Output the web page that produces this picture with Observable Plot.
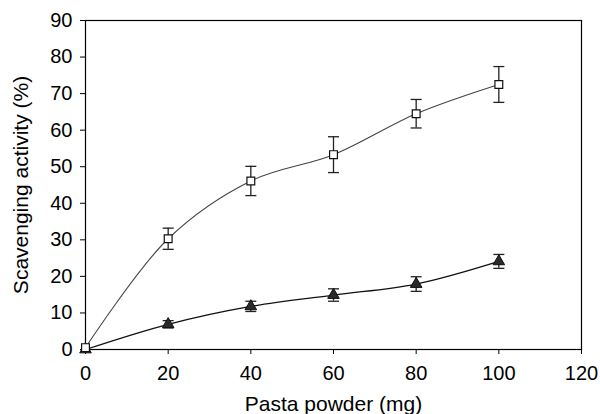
<!DOCTYPE html>
<html>
<head>
<meta charset="utf-8">
<script src="https://cdn.jsdelivr.net/npm/d3@7"></script>
<script src="https://cdn.jsdelivr.net/npm/@observablehq/plot@0.6"></script>
<style>
  html, body { margin: 0; padding: 0; background: #fff; }
  #chart svg { display: block; }
</style>
</head>
<body>
<div id="chart"></div>
<script>
// Data
const doses = [0, 20, 40, 60, 80, 100];              // Pasta powder (mg)
const squareMean = [0.5, 30.3, 46.1, 53.3, 64.5, 72.5];
const squareErr  = [0, 2.9, 4.0, 4.9, 3.9, 4.9];
const triangleMean = [0, 6.9, 11.8, 14.9, 17.9, 24.1];
const triangleErr  = [0, 1.0, 1.4, 1.7, 2.0, 1.9];
const xTicks = [0, 20, 40, 60, 80, 100, 120];
const yTicks = [0, 10, 20, 30, 40, 50, 60, 70, 80, 90];
const xTitle = "Pasta powder (mg)";
const yTitle = "Scavenging activity (%)";

const squares = doses.map((x, i) => ({x, y: squareMean[i], e: squareErr[i]}));
const triangles = doses.map((x, i) => ({x, y: triangleMean[i], e: triangleErr[i]}));

// horizontal cap symbol for error bars
const cap = {draw(ctx) { ctx.moveTo(-5.5, 0); ctx.lineTo(5.5, 0); }};

function errorMarks(data, color) {
  const withErr = data.filter(d => d.e > 0);
  return [
    Plot.ruleX(withErr, {x: "x", y1: d => d.y - d.e, y2: d => d.y + d.e, stroke: color, strokeWidth: 1.3}),
    Plot.dot(withErr, {x: "x", y: d => d.y + d.e, symbol: cap, stroke: color, strokeWidth: 1.3, r: 5}),
    Plot.dot(withErr, {x: "x", y: d => d.y - d.e, symbol: cap, stroke: color, strokeWidth: 1.3, r: 5})
  ];
}

const chart = Plot.plot({
  width: 600,
  height: 414,
  marginLeft: 85,
  marginRight: 19,
  marginTop: 20,
  marginBottom: 65,
  style: {fontFamily: "'Liberation Sans', Arial, sans-serif", fontSize: "20px", color: "#000", background: "#fff"},
  x: {domain: [0, 120], label: null},
  y: {domain: [0, 90], label: null},
  marks: [
    Plot.axisX({ticks: xTicks, tickSize: 5, tickPadding: 11, fontSize: 20, label: null}),
    Plot.axisY({ticks: yTicks, tickSize: 5, tickPadding: 8, fontSize: 20, label: null}),
    Plot.frame({stroke: "#000", strokeWidth: 1.2}),
    Plot.line(squares, {x: "x", y: "y", curve: "catmull-rom", stroke: "#444", strokeWidth: 1.1}),
    Plot.line(triangles, {x: "x", y: "y", curve: "catmull-rom", stroke: "#111", strokeWidth: 1.3}),
    ...errorMarks(triangles, "#222"),
    ...errorMarks(squares, "#222"),
    Plot.dot(triangles, {x: "x", y: "y", symbol: "triangle", r: 4.3, fill: "#2a2a2a", stroke: "#111", strokeWidth: 1}),
    Plot.dot(squares, {x: "x", y: "y", symbol: "square", r: 4.4, fill: "#fff", stroke: "#111", strokeWidth: 1.2}),
    Plot.text([xTitle], {frameAnchor: "bottom", textAnchor: "middle", lineAnchor: "middle", dy: 55, fontSize: 21, fill: "#000"}),
    Plot.text([yTitle], {frameAnchor: "left", textAnchor: "middle", lineAnchor: "middle", dx: -64.5, rotate: -90, fontSize: 21, fill: "#000"})
  ]
});
document.getElementById("chart").appendChild(chart);
</script>
</body>
</html>
